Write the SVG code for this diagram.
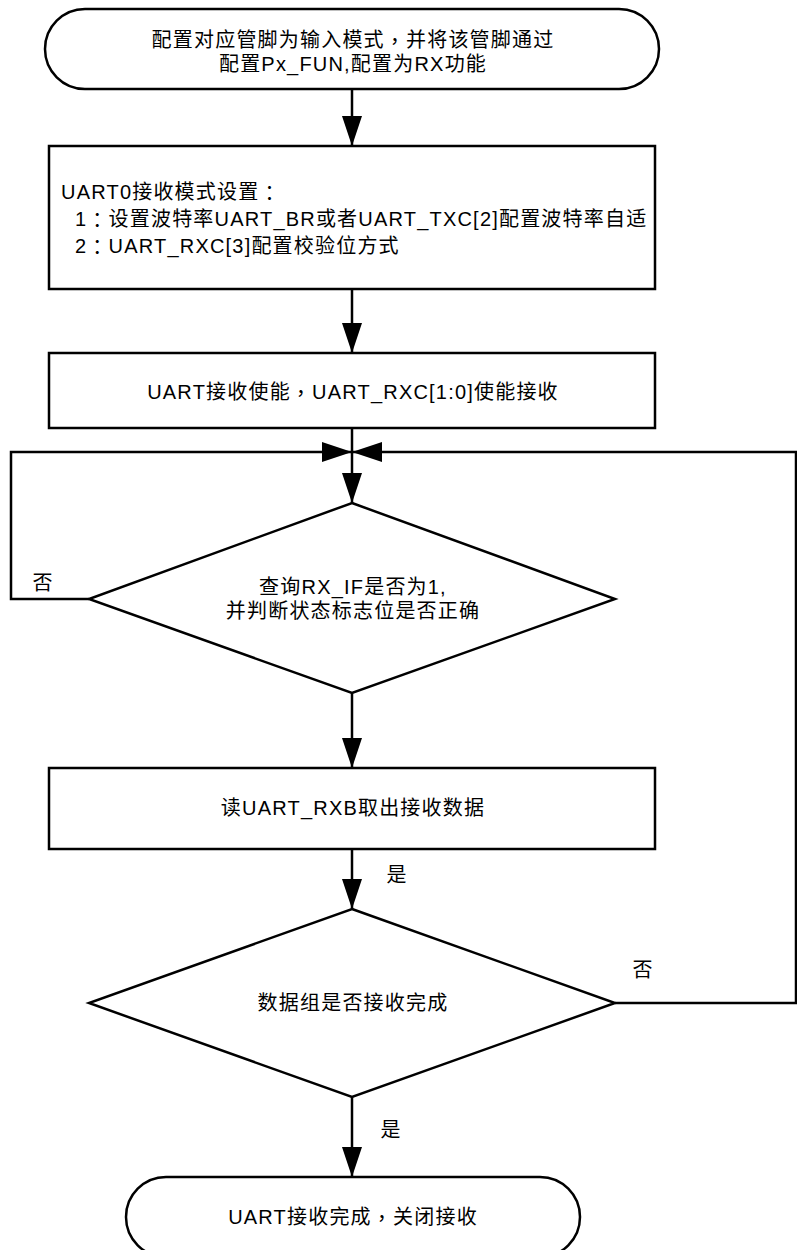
<svg xmlns="http://www.w3.org/2000/svg" width="797" height="1250" viewBox="0 0 797 1250">
<style>
.s{fill:#fff;stroke:#000;stroke-width:2.5}
.c{fill:none;stroke:#000;stroke-width:2.5}
text{font-family:"Liberation Sans","Noto Sans CJK SC",sans-serif;font-size:20px;letter-spacing:1.2px;fill:#000;dominant-baseline:central}
.m{text-anchor:middle}
.p{font-family:"Noto Sans CJK TC",sans-serif}
</style>
<defs>
<marker id="ah" viewBox="0 0 30 20" markerWidth="30" markerHeight="20" refX="30" refY="10" orient="auto" markerUnits="userSpaceOnUse">
<path d="M0,0 L30,10 L0,20 Z" fill="#000"/>
</marker>
</defs>
<rect width="797" height="1250" fill="#fff"/>
<g id="connectors">
<path class="c" d="M352,89 V146" marker-end="url(#ah)"/>
<path class="c" d="M352,289 V353" marker-end="url(#ah)"/>
<path class="c" d="M352,428 V503" marker-end="url(#ah)"/>
<path class="c" d="M89,599 H11 V452 H352" marker-end="url(#ah)"/>
<path class="c" d="M615,1003 H796 V452 H352" marker-end="url(#ah)"/>
<path class="c" d="M352,693 V768" marker-end="url(#ah)"/>
<path class="c" d="M352,849 V909" marker-end="url(#ah)"/>
<path class="c" d="M352,1097 V1177" marker-end="url(#ah)"/>
<text x="43" y="583" class="m">否</text>
<text x="397" y="875" class="m">是</text>
<text x="643" y="970" class="m">否</text>
<text x="391" y="1130" class="m">是</text>
</g>
<g id="start">
<rect class="s" x="45" y="9" width="614" height="80" rx="40" ry="40"/>
<text x="353" y="40" class="m">配置对应管脚为输入模式<tspan class="p">，</tspan>并将该管脚通过</text>
<text x="353" y="64" class="m">配置Px_FUN,配置为RX功能</text>
</g>
<g id="setup">
<rect class="s" x="49" y="146" width="606" height="143"/>
<text x="61" y="192">UART0接收模式设置<tspan class="p">：</tspan></text>
<text x="75" y="219">1<tspan class="p">：</tspan>设置波特率UART_BR或者UART_TXC[2]配置波特率自适</text>
<text x="75" y="246">2<tspan class="p">：</tspan>UART_RXC[3]配置校验位方式</text>
</g>
<g id="enable">
<rect class="s" x="49" y="353" width="606" height="75"/>
<text x="353" y="392" class="m">UART接收使能<tspan class="p">，</tspan>UART_RXC[1:0]使能接收</text>
</g>
<g id="check">
<polygon class="s" points="352,503 615,599 352,693 89,599"/>
<text x="353" y="587" class="m">查询RX_IF是否为1,</text>
<text x="353" y="611" class="m">并判断状态标志位是否正确</text>
</g>
<g id="read">
<rect class="s" x="49" y="768" width="606" height="81"/>
<text x="353" y="808" class="m">读UART_RXB取出接收数据</text>
</g>
<g id="done">
<polygon class="s" points="352,909 615,1003 352,1097 89,1003"/>
<text x="353" y="1003" class="m">数据组是否接收完成</text>
</g>
<g id="end">
<rect class="s" x="126" y="1177" width="454" height="80" rx="40" ry="40"/>
<text x="353" y="1217" class="m">UART接收完成<tspan class="p">，</tspan>关闭接收</text>
</g>
</svg>
